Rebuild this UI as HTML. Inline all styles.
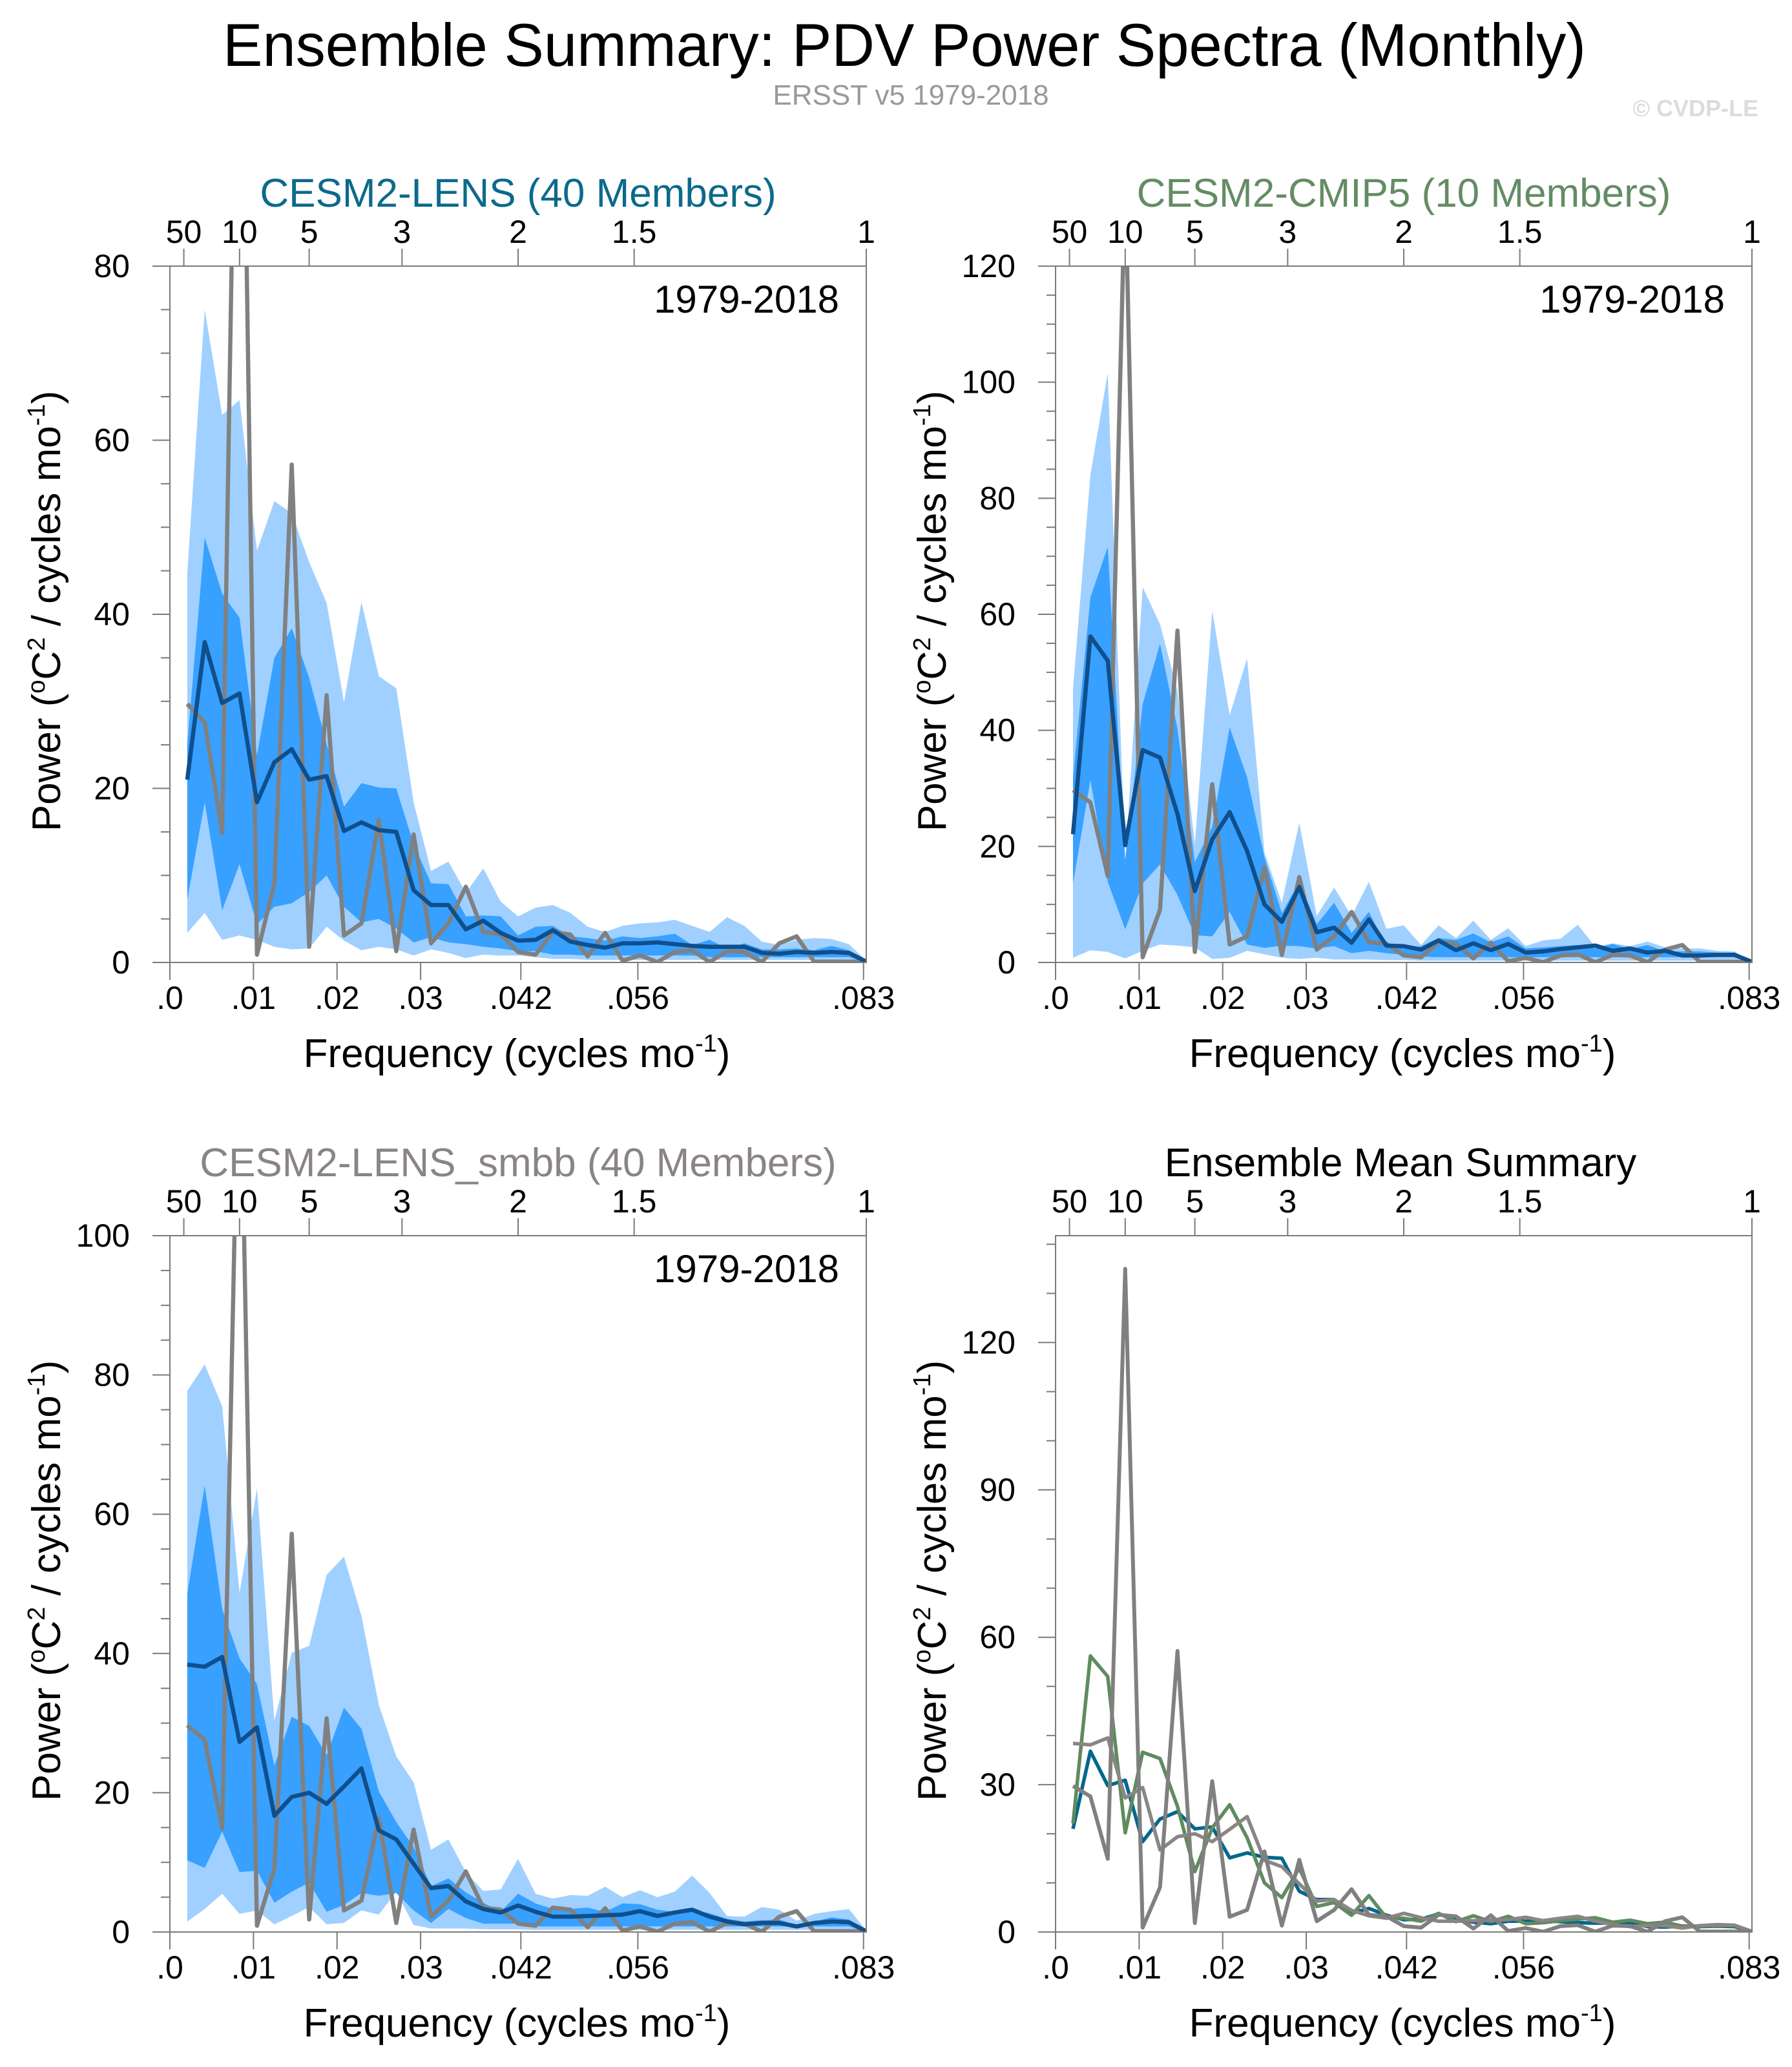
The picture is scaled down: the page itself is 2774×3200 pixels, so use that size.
<!DOCTYPE html>
<html><head><meta charset="utf-8"><style>
html,body{margin:0;padding:0;background:#fff;}
svg{display:block;font-family:"Liberation Sans",sans-serif;}
</style></head><body>
<svg id="fig" width="2774" height="3200" viewBox="0 0 2774 3200" xmlns="http://www.w3.org/2000/svg">
<text x="1400" y="102" font-size="94" text-anchor="middle" textLength="2110" lengthAdjust="spacingAndGlyphs" fill="#000">Ensemble Summary: PDV Power Spectra (Monthly)</text>
<text x="1410" y="162" font-size="44" text-anchor="middle" fill="#999">ERSST v5 1979-2018</text>
<text x="2722" y="180" font-size="36" font-weight="bold" text-anchor="end" fill="#dcdcdc">© CVDP-LE</text>
</svg>
<script>
const freqIdx = [1,2,3,4,5,6,7,8,9,10,11,12,13,14,15,16,17,18,19,20,21,22,23,24,25,26,27,28,29,30,31,32,33,34,35,36,37,38,39,40];
const obsPower = [29.7,27.6,14.9,135,0.9,9.1,57.2,1.8,30.7,3.1,4.5,16.4,1.3,14.7,2.2,4.5,8.7,3.5,3.2,1.2,0.9,3.5,3.2,0.7,3.4,0.2,0.8,0.05,1.2,1.4,0.05,1.3,1.2,0.05,2.2,3.0,0.1,0.1,0.1,0.1];

const lensMean = [21.0,36.8,29.8,30.9,18.4,23.0,24.5,21.0,21.4,15.1,16.1,15.2,15.0,8.3,6.6,6.6,3.8,4.8,3.4,2.5,2.6,3.7,2.4,2.0,1.7,2.2,2.2,2.3,2.1,1.9,1.8,1.8,1.8,1.1,1.0,1.2,1.1,1.2,1.1,0.1];
const lensHi = [44.7,75,62.9,64.6,47.3,53,51.6,46,41.3,29.9,41.4,32.9,31.5,18.4,10.5,11.6,8,10.8,7,5.3,6.3,6.6,5.7,4.1,3.5,4.2,4.5,4.6,4.9,4.2,3.5,5.2,4.2,2.4,2.0,2.6,2.8,2.7,2.1,0.2];
const lensLo = [3.4,5.7,2.6,3.1,2.6,1.8,1.5,1.6,4.1,2.5,1.4,1.8,1.5,0.8,1.5,1.1,0.5,0.9,0.8,0.8,0.6,0.4,0.4,0.3,0.3,0.3,0.3,0.3,0.3,0.3,0.3,0.3,0.3,0.3,0.3,0.3,0.3,0.3,0.3,0];
const lensQHi = [25,48.8,42.4,39.6,23.8,35,38.4,32.7,25.1,17.9,20.6,20.1,20,13.6,9.1,9,5.3,5.4,5.3,3.1,4.1,4.2,3.0,2.8,2.5,3.0,2.8,3.0,3.3,2.0,2.6,1.6,2.2,1.5,1.5,1.6,1.4,1.9,1.4,0.1];
const lensQLo = [7.2,18.4,6,11.3,4.4,6.4,6.8,8.1,10,6.4,4.6,5,3.9,2.3,2.9,2.3,2.1,1.8,1.6,1.3,1.3,0.9,0.9,0.8,0.8,0.8,0.8,0.8,0.8,0.8,0.6,0.6,0.6,0.6,0.6,0.6,0.6,0.6,0.6,0];

const cmipMean = [22.1,56.2,52.0,20.2,36.6,35.3,25.6,12.3,21.2,25.9,19.2,10.0,7.0,13.0,5.2,6.0,3.4,7.4,2.9,2.8,2.2,3.8,2.1,3.3,2.1,3.2,1.7,1.9,2.3,2.6,2.9,2.0,2.4,1.7,2.0,1.2,1.2,1.3,1.3,0.1];
const cmipHi = [47.2,84,101.6,17.3,64.7,58.3,46.8,20.4,60.6,42.6,52.4,18.9,10.3,24.1,8.0,12.9,8,13.9,5.8,6.4,3.0,6.4,4.2,7.2,3.9,5.9,2.8,3.8,4.1,6.5,2.7,3.3,2.8,3.6,2.6,2.4,2.4,2.0,1.9,0.1];
const cmipLo = [0.8,2.1,1.8,0.7,2.0,3.1,2.9,2.6,0.6,0.8,2,1.4,0.8,0.6,0.8,0.5,0.5,0.5,0.4,0.4,0.3,0.3,0.3,0.3,0.3,0.3,0.3,0.3,0.3,0.3,0.3,0.3,0.3,0.3,0.3,0.3,0.3,0.3,0.3,0];
const cmipQHi = [31.9,62.9,71.6,17.7,44.5,54.9,40.3,17.3,23.4,40.5,31.9,18.1,8.5,13.9,6.6,10.3,5.1,8.7,2.8,2.4,2.8,4.2,3.9,5.0,3.5,4.5,2.4,2.6,2.8,3.0,2.4,3.2,2.3,3.0,1.9,1.9,1.9,1.7,1.7,0.1];
const cmipQLo = [13.5,31.5,13.9,5.7,13.6,16.9,11.6,4.7,4.5,8.7,3.1,2.5,2.9,2.8,2.4,2.8,1.6,2.0,1.6,1.3,1.0,0.9,0.9,0.9,0.9,0.9,0.9,0.9,0.9,0.9,0.9,0.9,0.9,0.9,0.9,0.9,0.9,0.9,0.9,0];

const smbbMean = [38.4,38.1,39.5,27.3,29.4,16.7,19.4,20.0,18.4,20.9,23.5,14.6,13.3,9.8,6.3,6.6,4.4,3.3,2.8,3.8,2.9,2.2,2.2,2.3,2.4,2.5,3.0,2.3,2.8,3.2,2.2,1.5,1.1,1.3,1.3,0.8,1.3,1.5,1.4,0.1];
const smbbHi = [77.7,81.5,75.5,48.7,63.7,30.4,40.1,41.1,51.3,53.9,45.4,32.6,25.2,21.5,11.8,13.3,8.6,5.9,6.1,10.5,5.5,4.8,5.3,5.2,6.5,5.0,6.0,5.0,5.8,8.1,5.6,2.3,2.2,3.6,3.2,1.6,2.6,3.0,3.3,0.2];
const smbbLo = [1.5,3.3,5.5,2.6,3.1,1.1,2.3,3.6,1.1,1.3,3.1,2.5,5.8,1.0,0.5,0.5,0.5,0.4,0.4,0.4,0.3,0.3,0.3,0.3,0.3,0.3,0.3,0.3,0.3,0.3,0.3,0.3,0.3,0.3,0.3,0.3,0.3,0.3,0.3,0];
const smbbQHi = [48.6,64.1,46.4,39.3,35.6,23.9,30.9,29.6,25.4,32.2,29.2,20.2,15.8,12.2,6.6,7.7,5.7,4.2,2.9,5.5,4.1,3.3,3.3,3.5,2.9,4.1,4.0,3.2,2.9,3.2,2.7,1.9,1.5,1.7,1.8,1.0,1.5,2.1,1.8,0.1];
const smbbQLo = [10.3,9.2,14.4,8.6,8.8,4.2,5.8,7.1,2.9,3.9,5.6,5.2,5.6,3.1,1.3,3.3,2.0,1.2,1.2,1.2,0.8,0.8,0.8,0.8,0.8,0.8,0.8,0.8,0.8,0.8,0.8,0.8,0.8,0.8,0.8,0.8,0.8,0.8,0.8,0];

const bottomTickVals = [0,0.01,0.02,0.03,0.042,0.056,0.083];
const bottomTickLabels = ['.0','.01','.02','.03','.042','.056','.083'];
const topPeriods = [50,10,5,3,2,1.5,1];
const topPeriodLabels = ['50','10','5','3','2','1.5','1'];

const NS='http://www.w3.org/2000/svg';
const svg=document.getElementById('fig');
const W=1078,H=1078,XMAX=1/12;
function mk(tag,attrs,parent){const e=document.createElementNS(NS,tag);for(const k in attrs)e.setAttribute(k,attrs[k]);(parent||svg).appendChild(e);return e;}

const panels=[
 {name:'lens',x:263,y:412,ymax:80,major:20,minor:5,title:'CESM2-LENS (40 Members)',tcolor:'#0b6a8b',mean:lensMean,hi:lensHi,lo:lensLo,qhi:lensQHi,qlo:lensQLo},
 {name:'cmip5',x:1634,y:412,ymax:120,major:20,minor:5,title:'CESM2-CMIP5 (10 Members)',tcolor:'#648c64',mean:cmipMean,hi:cmipHi,lo:cmipLo,qhi:cmipQHi,qlo:cmipQLo},
 {name:'smbb',x:263,y:1913,ymax:100,major:20,minor:5,title:'CESM2-LENS_smbb (40 Members)',tcolor:'#8a8484',mean:smbbMean,hi:smbbHi,lo:smbbLo,qhi:smbbQHi,qlo:smbbQLo},
 {name:'summary',x:1634,y:1913,ymax:141.75,major:30,minor:10,title:'Ensemble Mean Summary',tcolor:'#000',summary:true}
];

panels.forEach((p,pi)=>{
  const g=mk('g',{});
  
  
  const sx=f=>p.x+f/XMAX*W;
  const sy=v=>p.y+H-v/p.ymax*H;
  const kx=i=>sx(freqIdx[i]/480);
  const cid='clip'+pi;
  const cp=mk('clipPath',{id:cid},g);mk('rect',{x:p.x,y:p.y,width:W,height:H},cp);
  const data=mk('g',{'clip-path':'url(#'+cid+')'},g);
  
  
  function band(up,dn,fill,nm){
    let pts=[];for(let i=0;i<freqIdx.length;i++)pts.push(kx(i).toFixed(1)+','+sy(up[i]).toFixed(1));
    for(let i=freqIdx.length-1;i>=0;i--)pts.push(kx(i).toFixed(1)+','+sy(dn[i]).toFixed(1));
    const e=mk('polygon',{points:pts.join(' '),fill:fill},data);
    
    
  }
  function line(vals,col,wd,nm){
    const pts=vals.map((v,i)=>kx(i).toFixed(1)+','+sy(v).toFixed(1)).join(' ');
    const e=mk('polyline',{points:pts,fill:'none',stroke:col,'stroke-width':wd,'stroke-linejoin':'round'},data);
    
    
  }
  if(!p.summary){
    band(p.hi,p.lo,'#a0d0ff','range-band');
    band(p.qhi,p.qlo,'#38a0ff','interquartile-band');
    line(obsPower,'#808080',6.5,'observed-line');
    line(p.mean,'#0f4f8c',6.5,'ensemble-mean-line');
  } else {
    line(lensMean,'#00688c',5.5,'lens-mean-line');
    line(cmipMean,'#5f8b5f',5.5,'cmip5-mean-line');
    line(smbbMean,'#8c8585',5.5,'smbb-mean-line');
    line(obsPower,'#808080',6,'observed-line');
  }
  const fr=mk('rect',{x:p.x,y:p.y,width:W,height:H,fill:'none',stroke:'#7a7a7a','stroke-width':2},g);
  
  
  for(let v=0;v<=p.ymax+1e-6;v+=p.minor){
    const isMaj=Math.abs(v/p.major-Math.round(v/p.major))<1e-6;
    mk('line',{x1:p.x-(isMaj?27:14),x2:p.x,y1:sy(v),y2:sy(v),stroke:'#7a7a7a','stroke-width':2},g);
    if(isMaj){
      const t=mk('text',{x:p.x-62,y:sy(v)+17,'font-size':50,'text-anchor':'end',fill:'#000'},g);
      t.textContent=String(v);
      
      
    }
  }
  bottomTickVals.forEach((f,i)=>{
    mk('line',{x1:sx(f),x2:sx(f),y1:p.y+H,y2:p.y+H+27,stroke:'#7a7a7a','stroke-width':2},g);
    const t=mk('text',{x:sx(f),y:p.y+H+72,'font-size':50,'text-anchor':'middle',fill:'#000'},g);
    t.textContent=bottomTickLabels[i];
    
    
  });
  topPeriods.forEach((P,i)=>{
    const f=1/(12*P);
    mk('line',{x1:sx(f),x2:sx(f),y1:p.y,y2:p.y-27,stroke:'#7a7a7a','stroke-width':2},g);
    const t=mk('text',{x:sx(f),y:p.y-36,'font-size':50,'text-anchor':'middle',fill:'#000'},g);
    t.textContent=topPeriodLabels[i];
    
    
  });
  const tt=mk('text',{x:p.x+W/2+(p.summary?-5:0),y:p.y-92,'font-size':62,'text-anchor':'middle',fill:p.tcolor},g);
  tt.textContent=p.title;
  
  
  if(!p.summary){
    const yr=mk('text',{x:p.x+W-42,y:p.y+72,'font-size':60,'text-anchor':'end',fill:'#000'},g);
    yr.textContent='1979-2018';
    
    
  }
  const xt=mk('text',{x:p.x+W/2-2,y:p.y+H+162,'font-size':62,'text-anchor':'middle',fill:'#000'},g);
  xt.innerHTML='Frequency (cycles mo<tspan dy="-24" font-size="38">-1</tspan><tspan dy="24">)</tspan>';
  
  
  const cx=p.x-170, cy=p.y+H/2-5;
  const yt=mk('text',{x:cx,y:cy,'font-size':62,'text-anchor':'middle',fill:'#000',transform:'rotate(-90 '+cx+' '+cy+')'},g);
  yt.innerHTML='Power (<tspan dy="-24" font-size="38">o</tspan><tspan dy="24">C</tspan><tspan dy="-24" font-size="38">2</tspan><tspan dy="24"> / cycles mo</tspan><tspan dy="-24" font-size="38">-1</tspan><tspan dy="24">)</tspan>';
  
  
});
</script>
</body></html>
